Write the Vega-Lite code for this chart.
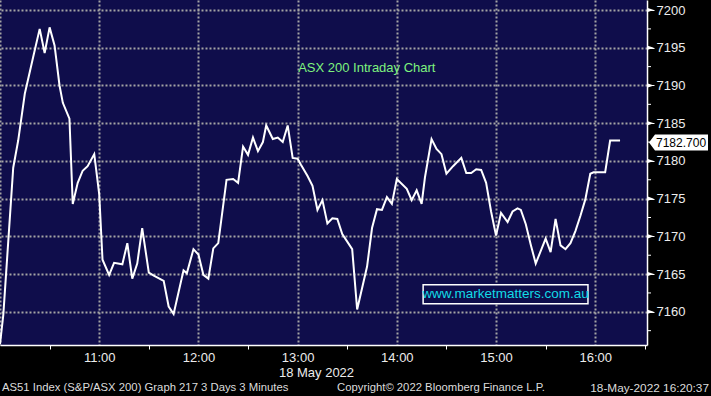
{
  "$schema": "https://vega.github.io/schema/vega-lite/v6.json",
  "width": 647,
  "height": 345,
  "autosize": {"type": "none"},
  "padding": {"left": 0, "top": 0, "right": 64, "bottom": 51},
  "background": "#000000",
  "config": {
    "view": {"fill": "#0f0d4b", "stroke": null},
    "font": "Liberation Sans"
  },
  "datasets": {
    "series": [
      {"time": "2022-05-18T10:00", "price": 7155.7},
      {"time": "2022-05-18T10:02", "price": 7159.6},
      {"time": "2022-05-18T10:08", "price": 7179.1},
      {"time": "2022-05-18T10:11", "price": 7182.7},
      {"time": "2022-05-18T10:15", "price": 7188.9},
      {"time": "2022-05-18T10:20", "price": 7193.7},
      {"time": "2022-05-18T10:24", "price": 7197.5},
      {"time": "2022-05-18T10:27", "price": 7194.3},
      {"time": "2022-05-18T10:30", "price": 7197.7},
      {"time": "2022-05-18T10:33", "price": 7195.3},
      {"time": "2022-05-18T10:36", "price": 7190.0},
      {"time": "2022-05-18T10:38", "price": 7187.7},
      {"time": "2022-05-18T10:42", "price": 7185.6},
      {"time": "2022-05-18T10:44", "price": 7174.3},
      {"time": "2022-05-18T10:47", "price": 7177.1},
      {"time": "2022-05-18T10:50", "price": 7178.7},
      {"time": "2022-05-18T10:53", "price": 7179.3},
      {"time": "2022-05-18T10:57", "price": 7180.9},
      {"time": "2022-05-18T11:00", "price": 7175.6},
      {"time": "2022-05-18T11:02", "price": 7166.9},
      {"time": "2022-05-18T11:06", "price": 7164.9},
      {"time": "2022-05-18T11:09", "price": 7166.5},
      {"time": "2022-05-18T11:14", "price": 7166.3},
      {"time": "2022-05-18T11:17", "price": 7169.1},
      {"time": "2022-05-18T11:20", "price": 7164.4},
      {"time": "2022-05-18T11:23", "price": 7166.4},
      {"time": "2022-05-18T11:26", "price": 7171.1},
      {"time": "2022-05-18T11:30", "price": 7165.2},
      {"time": "2022-05-18T11:33", "price": 7164.8},
      {"time": "2022-05-18T11:39", "price": 7164.1},
      {"time": "2022-05-18T11:42", "price": 7160.7},
      {"time": "2022-05-18T11:45", "price": 7159.7},
      {"time": "2022-05-18T11:51", "price": 7165.5},
      {"time": "2022-05-18T11:53", "price": 7165.1},
      {"time": "2022-05-18T11:57", "price": 7168.3},
      {"time": "2022-05-18T12:00", "price": 7167.6},
      {"time": "2022-05-18T12:03", "price": 7164.9},
      {"time": "2022-05-18T12:06", "price": 7164.4},
      {"time": "2022-05-18T12:09", "price": 7168.4},
      {"time": "2022-05-18T12:12", "price": 7169.1},
      {"time": "2022-05-18T12:17", "price": 7177.5},
      {"time": "2022-05-18T12:21", "price": 7177.6},
      {"time": "2022-05-18T12:24", "price": 7177.1},
      {"time": "2022-05-18T12:27", "price": 7181.9},
      {"time": "2022-05-18T12:30", "price": 7180.8},
      {"time": "2022-05-18T12:33", "price": 7183.1},
      {"time": "2022-05-18T12:36", "price": 7181.3},
      {"time": "2022-05-18T12:39", "price": 7182.5},
      {"time": "2022-05-18T12:41", "price": 7184.7},
      {"time": "2022-05-18T12:45", "price": 7182.9},
      {"time": "2022-05-18T12:48", "price": 7183.1},
      {"time": "2022-05-18T12:51", "price": 7182.5},
      {"time": "2022-05-18T12:54", "price": 7184.7},
      {"time": "2022-05-18T12:57", "price": 7180.4},
      {"time": "2022-05-18T13:00", "price": 7180.3},
      {"time": "2022-05-18T13:02", "price": 7179.5},
      {"time": "2022-05-18T13:06", "price": 7178.0},
      {"time": "2022-05-18T13:09", "price": 7176.7},
      {"time": "2022-05-18T13:12", "price": 7173.5},
      {"time": "2022-05-18T13:15", "price": 7174.8},
      {"time": "2022-05-18T13:18", "price": 7171.7},
      {"time": "2022-05-18T13:21", "price": 7172.4},
      {"time": "2022-05-18T13:24", "price": 7172.3},
      {"time": "2022-05-18T13:27", "price": 7170.3},
      {"time": "2022-05-18T13:33", "price": 7168.3},
      {"time": "2022-05-18T13:36", "price": 7160.3},
      {"time": "2022-05-18T13:42", "price": 7166.0},
      {"time": "2022-05-18T13:45", "price": 7171.1},
      {"time": "2022-05-18T13:48", "price": 7173.6},
      {"time": "2022-05-18T13:51", "price": 7173.5},
      {"time": "2022-05-18T13:54", "price": 7175.2},
      {"time": "2022-05-18T13:57", "price": 7174.3},
      {"time": "2022-05-18T14:00", "price": 7177.6},
      {"time": "2022-05-18T14:06", "price": 7176.3},
      {"time": "2022-05-18T14:09", "price": 7174.8},
      {"time": "2022-05-18T14:12", "price": 7176.1},
      {"time": "2022-05-18T14:15", "price": 7174.3},
      {"time": "2022-05-18T14:17", "price": 7177.8},
      {"time": "2022-05-18T14:21", "price": 7182.9},
      {"time": "2022-05-18T14:24", "price": 7181.6},
      {"time": "2022-05-18T14:27", "price": 7180.9},
      {"time": "2022-05-18T14:30", "price": 7178.3},
      {"time": "2022-05-18T14:34", "price": 7179.3},
      {"time": "2022-05-18T14:39", "price": 7180.4},
      {"time": "2022-05-18T14:42", "price": 7178.4},
      {"time": "2022-05-18T14:45", "price": 7178.4},
      {"time": "2022-05-18T14:48", "price": 7178.9},
      {"time": "2022-05-18T14:51", "price": 7178.8},
      {"time": "2022-05-18T14:54", "price": 7177.1},
      {"time": "2022-05-18T14:57", "price": 7173.3},
      {"time": "2022-05-18T15:00", "price": 7170.1},
      {"time": "2022-05-18T15:03", "price": 7173.1},
      {"time": "2022-05-18T15:07", "price": 7171.9},
      {"time": "2022-05-18T15:10", "price": 7173.3},
      {"time": "2022-05-18T15:13", "price": 7173.7},
      {"time": "2022-05-18T15:15", "price": 7173.5},
      {"time": "2022-05-18T15:18", "price": 7171.6},
      {"time": "2022-05-18T15:21", "price": 7168.9},
      {"time": "2022-05-18T15:24", "price": 7166.4},
      {"time": "2022-05-18T15:30", "price": 7169.7},
      {"time": "2022-05-18T15:33", "price": 7167.9},
      {"time": "2022-05-18T15:36", "price": 7172.3},
      {"time": "2022-05-18T15:39", "price": 7168.8},
      {"time": "2022-05-18T15:42", "price": 7168.3},
      {"time": "2022-05-18T15:45", "price": 7169.1},
      {"time": "2022-05-18T15:48", "price": 7170.7},
      {"time": "2022-05-18T15:51", "price": 7172.7},
      {"time": "2022-05-18T15:54", "price": 7174.9},
      {"time": "2022-05-18T15:57", "price": 7178.3},
      {"time": "2022-05-18T15:59", "price": 7178.5},
      {"time": "2022-05-18T16:06", "price": 7178.5},
      {"time": "2022-05-18T16:09", "price": 7182.7},
      {"time": "2022-05-18T16:15", "price": 7182.7}
    ],
    "majors": [
      {"time": "2022-05-18T16:31:18", "price": 7160}, {"time": "2022-05-18T16:31:18", "price": 7165},
      {"time": "2022-05-18T16:31:18", "price": 7170}, {"time": "2022-05-18T16:31:18", "price": 7175},
      {"time": "2022-05-18T16:31:18", "price": 7180}, {"time": "2022-05-18T16:31:18", "price": 7185},
      {"time": "2022-05-18T16:31:18", "price": 7190}, {"time": "2022-05-18T16:31:18", "price": 7195},
      {"time": "2022-05-18T16:31:18", "price": 7200}
    ],
    "minors": [
      {"time": "2022-05-18T16:31:18", "price": 7157.5}, {"time": "2022-05-18T16:31:18", "price": 7162.5},
      {"time": "2022-05-18T16:31:18", "price": 7167.5}, {"time": "2022-05-18T16:31:18", "price": 7172.5},
      {"time": "2022-05-18T16:31:18", "price": 7177.5}, {"time": "2022-05-18T16:31:18", "price": 7182.5},
      {"time": "2022-05-18T16:31:18", "price": 7187.5}, {"time": "2022-05-18T16:31:18", "price": 7192.5},
      {"time": "2022-05-18T16:31:18", "price": 7197.5}
    ],
    "last": [{"time": "2022-05-18T16:31:18", "price": 7182.7, "label": "7182.700"}],
    "box": [{"time": "2022-05-18T14:15:54", "time2": "2022-05-18T15:55:36", "price": 7163.6, "price2": 7161.07}],
    "site": [{"time": "2022-05-18T15:05:45", "price": 7162.33, "label": "www.marketmatters.com.au"}],
    "heading": [{"time": "2022-05-18T13:00:20", "price": 7192.27, "label": "ASX 200 Intraday Chart"}],
    "footLeft": [{"time": "2022-05-18T10:00:00", "price": 7149.9, "label": "AS51 Index (S&P/ASX 200) Graph 217 3 Days 3 Minutes"}],
    "footMid": [{"time": "2022-05-18T13:23:50", "price": 7149.9, "label": "Copyright© 2022 Bloomberg Finance L.P."}],
    "footRight": [{"time": "2022-05-18T17:08:48", "price": 7149.9, "label": "18-May-2022 16:20:37"}]
  },
  "layer": [
    {
      "data": {"name": "series"},
      "mark": {"type": "line", "color": "#ffffff", "strokeWidth": 2, "clip": true},
      "encoding": {
        "x": {
          "field": "time",
          "type": "temporal",
          "scale": {"domain": [
            {"year": 2022, "month": 5, "date": 18, "hours": 10, "minutes": 0},
            {"year": 2022, "month": 5, "date": 18, "hours": 16, "minutes": 31, "seconds": 18}
          ], "nice": false},
          "axis": {
            "title": "18 May 2022",
            "titleColor": "#ececec",
            "titleFont": "Liberation Sans",
            "titleFontSize": 13,
            "titleFontWeight": "normal",
            "titleX": 316,
            "titlePadding": 2,
            "values": [
              {"year": 2022, "month": 5, "date": 18, "hours": 10, "minutes": 0},
              {"year": 2022, "month": 5, "date": 18, "hours": 10, "minutes": 30},
              {"year": 2022, "month": 5, "date": 18, "hours": 11, "minutes": 0},
              {"year": 2022, "month": 5, "date": 18, "hours": 11, "minutes": 30},
              {"year": 2022, "month": 5, "date": 18, "hours": 12, "minutes": 0},
              {"year": 2022, "month": 5, "date": 18, "hours": 12, "minutes": 30},
              {"year": 2022, "month": 5, "date": 18, "hours": 13, "minutes": 0},
              {"year": 2022, "month": 5, "date": 18, "hours": 13, "minutes": 30},
              {"year": 2022, "month": 5, "date": 18, "hours": 14, "minutes": 0},
              {"year": 2022, "month": 5, "date": 18, "hours": 14, "minutes": 30},
              {"year": 2022, "month": 5, "date": 18, "hours": 15, "minutes": 0},
              {"year": 2022, "month": 5, "date": 18, "hours": 15, "minutes": 30},
              {"year": 2022, "month": 5, "date": 18, "hours": 16, "minutes": 0},
              {"year": 2022, "month": 5, "date": 18, "hours": 16, "minutes": 30}
            ],
            "labelExpr": "minutes(datum.value) == 0 && hours(datum.value) > 10 ? timeFormat(datum.value, '%H:%M') : ''",
            "labelColor": "#ececec",
            "labelFont": "Liberation Sans",
            "labelFontSize": 13,
            "labelPadding": 2,
            "labelFlush": false,
            "labelOverlap": false,
            "domainColor": "#ffffff",
            "domainWidth": 1.5,
            "tickColor": "#ffffff",
            "tickSize": 4,
            "tickWidth": 1,
            "tickOpacity": {"condition": {"test": "minutes(datum.value) == 0", "value": 0}, "value": 1},
            "grid": true,
            "gridColor": "#a4a4a4",
            "gridDash": [2, 2],
            "gridWidth": 2,
            "gridOpacity": {"condition": {"test": "minutes(datum.value) == 0", "value": 1}, "value": 0}
          }
        },
        "y": {
          "field": "price",
          "type": "quantitative",
          "scale": {"domain": [7155.6, 7201.33], "nice": false, "zero": false},
          "axis": {
            "orient": "right",
            "title": null,
            "values": [7160, 7165, 7170, 7175, 7180, 7185, 7190, 7195, 7200],
            "format": "d",
            "labelColor": "#ececec",
            "labelFont": "Liberation Sans",
            "labelFontSize": 13,
            "labelPadding": 2,
            "labelFlush": false,
            "labelOverlap": false,
            "domainColor": "#ffffff",
            "domainWidth": 1.5,
            "tickColor": "#ffffff",
            "tickSize": 7,
            "tickWidth": 1,
            "grid": true,
            "gridColor": "#a4a4a4",
            "gridDash": [2, 2],
            "gridWidth": 2
          }
        }
      }
    },
    {
      "data": {"name": "majors"},
      "mark": {"type": "point", "shape": "M0,-1 L3,0 L0,1 Z", "size": 21, "filled": true, "color": "#ffffff", "opacity": 1, "clip": false},
      "encoding": {
        "x": {"field": "time", "type": "temporal"},
        "y": {"field": "price", "type": "quantitative"}
      }
    },
    {
      "data": {"name": "minors"},
      "mark": {"type": "point", "shape": "M0,0 L2,0", "size": 16, "filled": false, "strokeWidth": 1, "color": "#ffffff", "opacity": 1, "clip": false},
      "encoding": {
        "x": {"field": "time", "type": "temporal"},
        "y": {"field": "price", "type": "quantitative"}
      }
    },
    {
      "data": {"name": "last"},
      "mark": {"type": "point", "shape": "M0.2,0.2 L0.8,-0.6 L6.1,-0.6 L6.1,1.0 L0.8,1.0 Z", "size": 400, "filled": true, "color": "#ffffff", "opacity": 1, "clip": false},
      "encoding": {
        "x": {"field": "time", "type": "temporal"},
        "y": {"field": "price", "type": "quantitative"}
      }
    },
    {
      "data": {"name": "last"},
      "mark": {"type": "text", "align": "left", "baseline": "middle", "dx": 9, "dy": 2, "font": "Liberation Sans", "fontSize": 12, "color": "#000000"},
      "encoding": {
        "x": {"field": "time", "type": "temporal"},
        "y": {"field": "price", "type": "quantitative"},
        "text": {"field": "label"}
      }
    },
    {
      "data": {"name": "box"},
      "mark": {"type": "rect", "fill": "#0f0d4b", "stroke": "#ffffff", "strokeWidth": 1.5},
      "encoding": {
        "x": {"field": "time", "type": "temporal"},
        "x2": {"field": "time2"},
        "y": {"field": "price", "type": "quantitative"},
        "y2": {"field": "price2"}
      }
    },
    {
      "data": {"name": "site"},
      "mark": {"type": "text", "align": "center", "baseline": "middle", "font": "Liberation Sans", "fontSize": 13.5, "color": "#12dbe6"},
      "encoding": {
        "x": {"field": "time", "type": "temporal"},
        "y": {"field": "price", "type": "quantitative"},
        "text": {"field": "label"}
      }
    },
    {
      "data": {"name": "heading"},
      "mark": {"type": "text", "align": "left", "baseline": "middle", "font": "Liberation Sans", "fontSize": 13, "color": "#7ef27e"},
      "encoding": {
        "x": {"field": "time", "type": "temporal"},
        "y": {"field": "price", "type": "quantitative"},
        "text": {"field": "label"}
      }
    },
    {
      "data": {"name": "footLeft"},
      "mark": {"type": "text", "align": "left", "baseline": "middle", "dx": 2, "font": "Liberation Sans", "fontSize": 11.3, "color": "#dcdcdc"},
      "encoding": {
        "x": {"field": "time", "type": "temporal"},
        "y": {"field": "price", "type": "quantitative"},
        "text": {"field": "label"}
      }
    },
    {
      "data": {"name": "footMid"},
      "mark": {"type": "text", "align": "left", "baseline": "middle", "font": "Liberation Sans", "fontSize": 11.3, "color": "#dcdcdc"},
      "encoding": {
        "x": {"field": "time", "type": "temporal"},
        "y": {"field": "price", "type": "quantitative"},
        "text": {"field": "label"}
      }
    },
    {
      "data": {"name": "footRight"},
      "mark": {"type": "text", "align": "right", "baseline": "middle", "font": "Liberation Sans", "fontSize": 11.8, "color": "#dcdcdc"},
      "encoding": {
        "x": {"field": "time", "type": "temporal"},
        "y": {"field": "price", "type": "quantitative"},
        "text": {"field": "label"}
      }
    }
  ]
}
